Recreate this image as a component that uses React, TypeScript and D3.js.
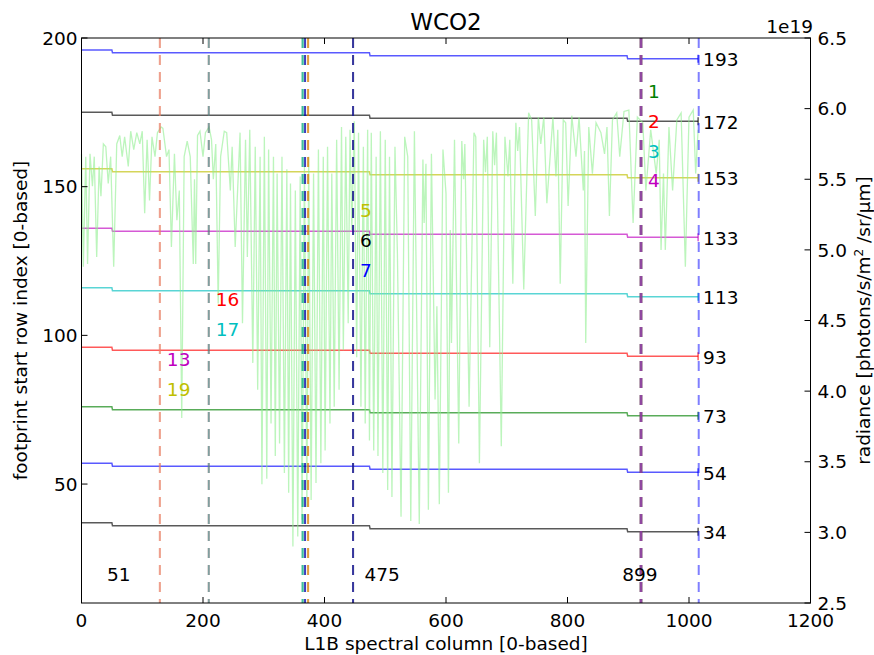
import React from 'react';
import * as d3 from 'd3';

// ---------------- data ----------------
const title = 'WCO2';
const xTicks = [0, 200, 400, 600, 800, 1000, 1200];
const leftTicks = [50, 100, 150, 200];
const rightTicks = [2.5, 3.0, 3.5, 4.0, 4.5, 5.0, 5.5, 6.0, 6.5];

// footprint start row per spectral-column segment
const segmentStarts = [0, 51, 475, 899];
const segmentEnd = 1015;
const rowLabels = [193, 172, 153, 133, 113, 93, 73, 54, 34];
const rowSegmentValues = [
  [196, 195, 194, 193],
  [175, 174, 173, 172],
  [156, 155, 154, 153],
  [136, 135, 134, 133],
  [116, 115, 114, 113],
  [96, 95, 94, 93],
  [76, 75, 74, 73],
  [57, 56, 55, 54],
  [37, 36, 35, 34],
];
const rowColors = ['#0000ff', '#000000', '#bfbf00', '#bf00bf', '#00bfbf', '#ff0000', '#008000', '#0000ff', '#000000'];

// vertical markers (column, colour)
const markerCols = [129, 129, 209.5, 209.5, 364, 364, 368, 368, 373, 373, 447, 447, 447, 921, 921, 921, 921, 1016];
const markerColors = ['#bfbf00', '#ff60a0', '#ff0000', '#00bfbf', '#008000', '#00bfbf', '#000000', '#0000ff', '#ff0000', '#bfbf00',
  '#bfbf00', '#000000', '#0000ff', '#008000', '#ff0000', '#00bfbf', '#bf00bf', '#0000ff'];

// numbered labels
const numLabels = ['1', '2', '3', '4', '5', '6', '7', '16', '17', '13', '19'];
const numLabelCols = [921, 921, 921, 921, 447, 447, 447, 209.5, 209.5, 129, 129];
const numLabelRows = [182, 172, 162, 152, 142, 132, 122, 112, 102, 92, 82];
const numLabelColors = ['#008000', '#ff0000', '#00bfbf', '#bf00bf', '#bfbf00', '#000000', '#0000ff', '#ff0000', '#00bfbf', '#bf00bf', '#bfbf00'];

// segment boundary labels
const boundaryLabels = ['51', '475', '899'];
const boundaryLabelRow = 19.5;

// radiance spectrum [column, radiance / 1e19]
const spectrum: [number, number][] = [
  [0, 5.68], [3, 4.88], [7, 5.66], [10, 4.90], [14, 5.68], [18, 5.45], [21, 5.66], [25, 4.95], [29, 5.59], [32, 5.38],
  [36, 5.75], [40, 5.73], [44, 5.47], [48, 5.66], [53, 4.88], [58, 5.75], [63, 5.81], [67, 5.66], [71, 5.80], [77, 5.59],
  [81, 5.84], [86, 5.71], [91, 5.83], [96, 5.75], [100, 5.84], [104, 5.26], [108, 5.78], [112, 5.35], [116, 5.80], [121, 5.66],
  [125, 5.83], [131, 5.87], [134, 5.86], [140, 5.66], [144, 5.71], [148, 5.02], [153, 5.68], [157, 5.21], [161, 5.42], [165, 3.81],
  [169, 5.66], [174, 5.77], [179, 5.66], [184, 4.90], [186, 5.50], [188, 4.90], [191, 5.81], [195, 5.84], [200, 5.66], [204, 5.83],
  [210, 5.87], [214, 5.78], [217, 5.50], [221, 5.75], [225, 4.62], [229, 5.66], [235, 5.84], [239, 5.83], [245, 5.42], [248, 5.73],
  [253, 5.02], [261, 5.83], [265, 4.48], [270, 5.78], [273, 4.95], [277, 5.85], [282, 4.20], [286, 5.73], [290, 4.01], [294, 5.66],
  [297, 3.34], [301, 5.80], [305, 3.38], [308, 5.71], [312, 3.77], [316, 5.66], [319, 3.54], [322, 5.54], [326, 3.63], [330, 5.66],
  [334, 3.42], [338, 5.57], [341, 3.28], [344, 5.47], [348, 2.90], [352, 5.42], [356, 2.97], [360, 5.52], [363, 3.09], [367, 5.59],
  [371, 3.18], [374, 5.66], [378, 3.23], [382, 5.54], [386, 3.35], [390, 5.71], [394, 3.49], [398, 5.66], [401, 3.58], [405, 5.73],
  [409, 3.77], [412, 5.54], [416, 3.89], [420, 5.78], [424, 4.01], [428, 5.87], [431, 4.29], [435, 5.80], [439, 4.48], [442, 5.85],
  [445, 5.14], [449, 5.91], [453, 4.24], [456, 5.83], [460, 3.89], [464, 5.73], [467, 3.77], [471, 5.85], [474, 3.65], [477, 5.83],
  [481, 3.58], [485, 5.66], [488, 3.54], [492, 5.84], [496, 3.42], [500, 5.78], [504, 3.30], [507, 5.66], [511, 3.25], [516, 5.73],
  [520, 4.98], [526, 3.11], [532, 5.80], [537, 5.66], [542, 3.08], [548, 5.84], [556, 3.06], [562, 5.64], [564, 5.19], [567, 5.61],
  [571, 3.16], [576, 5.68], [582, 3.94], [585, 4.60], [589, 3.20], [595, 5.71], [600, 5.40], [604, 3.28], [607, 5.14], [609, 4.34],
  [614, 5.78], [621, 3.63], [626, 5.77], [629, 5.50], [631, 5.75], [638, 3.89], [646, 5.83], [649, 5.80], [655, 3.49], [662, 5.78],
  [665, 5.55], [668, 5.80], [672, 4.31], [677, 5.84], [680, 5.60], [683, 5.83], [691, 3.61], [697, 5.80], [702, 5.52], [705, 5.78],
  [710, 4.76], [715, 5.90], [718, 5.70], [721, 5.87], [728, 4.72], [736, 5.97], [741, 5.92], [747, 5.24], [752, 5.94], [756, 5.75],
  [761, 5.94], [766, 5.33], [776, 5.94], [781, 5.52], [784, 5.85], [788, 4.76], [793, 5.92], [797, 5.90], [801, 5.31], [807, 5.95],
  [814, 5.66], [819, 5.94], [826, 5.42], [828, 5.70], [830, 4.34], [835, 5.87], [841, 5.54], [847, 5.90], [855, 5.83], [861, 5.68],
  [865, 5.87], [869, 5.24], [874, 5.92], [881, 5.97], [886, 5.66], [893, 5.98], [901, 5.99], [908, 5.19], [915, 5.94], [924, 5.90],
  [929, 5.42], [937, 5.85], [946, 5.54], [951, 5.78], [954, 5.00], [958, 5.54], [961, 5.00], [967, 5.87], [973, 5.42], [980, 5.92],
  [987, 5.97], [994, 4.88], [1000, 5.94], [1007, 5.99], [1011, 5.54], [1015, 5.85],
];

// ---------------- layout ----------------
const W = 874;
const H = 655;
const PL = 81.5, PR = 810.5, PT = 38, PB = 603;
const FONT = 'DejaVu Sans';
const FS = 18.5;

export default function App() {
  const x = d3.scaleLinear().domain([0, 1200]).range([PL, PR]);
  const yL = d3.scaleLinear().domain([10, 200]).range([PB, PT]);
  const yR = d3.scaleLinear().domain([2.5, 6.5]).range([PB, PT]);

  const rowLine = d3.line<[number, number]>().x(d => x(d[0])).y(d => yL(d[1]));
  const specLine = d3.line<[number, number]>().x(d => x(d[0])).y(d => yR(d[1]));

  const rowPaths = rowSegmentValues.map(vals => {
    const pts: [number, number][] = [];
    vals.forEach((v, i) => {
      const s = segmentStarts[i];
      const e = i < vals.length - 1 ? segmentStarts[i + 1] - 1 : segmentEnd;
      pts.push([s, v], [e, v]);
    });
    return rowLine(pts) as string;
  });

  const tickLen = 6;

  return (
    <svg width={W} height={H} style={{ position: 'absolute', left: 0, top: 0, background: '#fff' }}
      fontFamily={FONT}>
      <rect x={0} y={0} width={W} height={H} fill="#fff" />
      {/* row lines */}
      {rowPaths.map((d, i) => (
        <path key={'r' + i} d={d} fill="none" stroke={rowColors[i]} strokeOpacity={0.65} strokeWidth={1.5} />
      ))}
      {/* row end markers */}
      {rowLabels.map((v, i) => (
        <line key={'re' + i} x1={x(segmentEnd)} x2={x(segmentEnd)} y1={yL(v) - 4} y2={yL(v) + 4}
          stroke={rowColors[i]} strokeOpacity={0.65} strokeWidth={1.5} />
      ))}
      {/* spectrum */}
      <path d={specLine(spectrum) as string} fill="none" stroke="#90ee90" strokeOpacity={0.6} strokeWidth={1.3} />
      {/* vertical dashed markers */}
      {markerCols.map((c, i) => (
        <line key={'m' + i} x1={x(c)} x2={x(c)} y1={PT} y2={PB} stroke={markerColors[i]} strokeOpacity={0.5}
          strokeWidth={c === 921 ? 2.6 : 2} strokeDasharray="10,7" />
      ))}
      {/* row labels */}
      {rowLabels.map((v, i) => (
        <text key={'rl' + i} x={x(segmentEnd) + 5} y={yL(v)} dy="0.4em" fontSize={FS} fill="#000">{v}</text>
      ))}
      {/* numbered labels */}
      {numLabels.map((t, i) => (
        <text key={'nl' + i} x={x(numLabelCols[i]) + 7} y={yL(numLabelRows[i])} dy="0.36em" fontSize={FS}
          fill={numLabelColors[i]}>{t}</text>
      ))}
      {/* boundary labels */}
      {boundaryLabels.map((t, i) => (
        <text key={'bl' + i} x={x(segmentStarts[i + 1]) - 5.5} y={yL(boundaryLabelRow)} dy="0.36em" fontSize={FS}
          fill="#000">{t}</text>
      ))}
      {/* frame */}
      <rect x={PL} y={PT} width={PR - PL} height={PB - PT} fill="none" stroke="#000" strokeWidth={1} />
      {/* x ticks */}
      {xTicks.map(t => (
        <g key={'xt' + t}>
          <line x1={x(t)} x2={x(t)} y1={PB} y2={PB - tickLen} stroke="#000" />
          <line x1={x(t)} x2={x(t)} y1={PT} y2={PT + tickLen} stroke="#000" />
          <text x={x(t)} y={627} textAnchor="middle" fontSize={FS}>{t}</text>
        </g>
      ))}
      {leftTicks.map(t => (
        <g key={'lt' + t}>
          <line x1={PL} x2={PL + tickLen} y1={yL(t)} y2={yL(t)} stroke="#000" />
          <text x={PL - 4} y={yL(t)} dy="0.36em" textAnchor="end" fontSize={FS}>{t}</text>
        </g>
      ))}
      {rightTicks.map(t => (
        <g key={'rt' + t}>
          <line x1={PR} x2={PR - tickLen} y1={yR(t)} y2={yR(t)} stroke="#000" />
          <text x={PR + 7} y={yR(t)} dy="0.36em" textAnchor="start" fontSize={FS}>{t.toFixed(1)}</text>
        </g>
      ))}
      <text x={813} y={33} textAnchor="end" fontSize={FS}>1e19</text>
      <text x={(PL + PR) / 2} y={30} textAnchor="middle" fontSize={23}>{title}</text>
      <text x={(PL + PR) / 2} y={650} textAnchor="middle" fontSize={FS}>L1B spectral column [0-based]</text>
      <text transform={`translate(27,${(PT + PB) / 2}) rotate(-90)`} textAnchor="middle" fontSize={FS}>
        footprint start row index [0-based]
      </text>
      <text transform={`translate(870,${(PT + PB) / 2}) rotate(-90)`} textAnchor="middle" fontSize={FS}>
        radiance [photons/s/m<tspan dy={-7} fontSize={12}>2</tspan><tspan dy={7}> /sr/μm]</tspan>
      </text>
    </svg>
  );
}
